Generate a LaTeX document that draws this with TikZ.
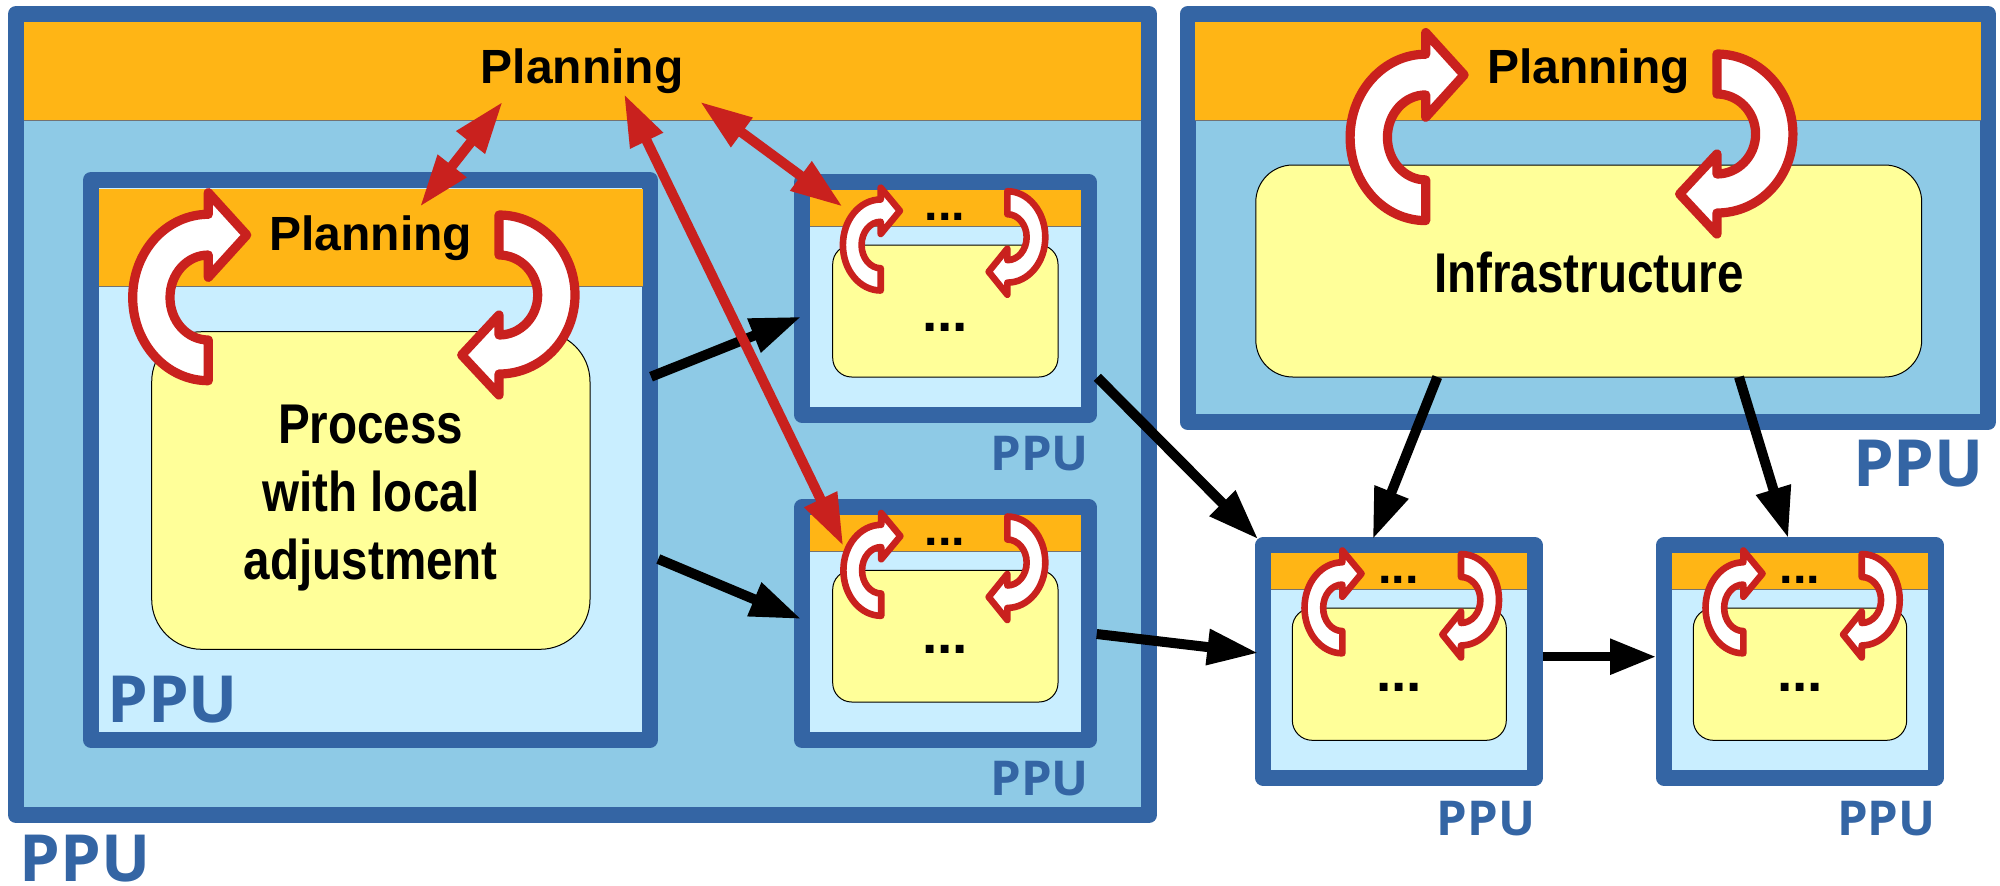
\documentclass[tikz,border=0pt]{standalone}
\usepackage{fontspec}
\setmainfont{Liberation Sans}
\newfontfamily\ppufont{Open Sans}
\usetikzlibrary{arrows.meta}
\definecolor{ppublue}{HTML}{3465A4}
\definecolor{midsky}{HTML}{8ECAE6}
\definecolor{palesky}{HTML}{C9EEFF}
\definecolor{bandorange}{HTML}{FFB515}
\definecolor{bodyyellow}{HTML}{FFFF99}
\definecolor{loopred}{HTML}{C9211E}
\tikzset{
  x=0.5pt,y=-0.5pt,
  framebox/.style={rectangle,inner sep=0pt,outer sep=0pt,draw=ppublue,line width=8pt,line join=round},
  bandbox/.style={rectangle,inner sep=0pt,outer sep=0pt,fill=bandorange},
  bodybox/.style={rectangle,inner sep=0pt,outer sep=0pt,fill=bodyyellow,draw=black,line width=0.5pt},
  looparrow/.style={draw=loopred,fill=white,line join=round},
  flow/.style={draw=black,line width=5pt,-{Triangle[length=25.5pt,width=17pt]}},
  shortflow/.style={draw=black,line width=4.4pt,-{Triangle[length=23pt,width=17pt]}},
  feedback/.style={draw=loopred,line width=5pt,{Triangle[length=26pt,width=17pt]}-{Triangle[length=26pt,width=17pt]}},
  plan/.style={anchor=base,inner sep=0pt,font=\fontsize{24pt}{28pt}\selectfont\bfseries},
  dotsband/.style={anchor=base,inner sep=0pt,font=\fontsize{24.3pt}{28pt}\selectfont\bfseries},
  dotsbody/.style={anchor=base,inner sep=0pt,font=\fontsize{27.5pt}{30pt}\selectfont\bfseries},
  bodytext/.style={anchor=base,inner sep=0pt,xscale=.85,align=center,font=\fontsize{28pt}{34pt}\selectfont\bfseries},
  ppubig/.style={anchor=base,inner sep=0pt,text=ppublue,font=\fontsize{32.5pt}{36pt}\selectfont\ppufont\bfseries},
  ppusmall/.style={anchor=base,inner sep=0pt,text=ppublue,xscale=1.02,font=\fontsize{24pt}{26pt}\selectfont\ppufont\bfseries},
}
% name, x1, y1, x2, y2, fill
\newcommand{\frameat}[6]{\node[framebox,fill=#6,minimum width={(#4-#2)*0.5pt},minimum height={(#5-#3)*0.5pt}] (#1) at ({(#2+#4)/2},{(#3+#5)/2}) {};}
\newcommand{\bandat}[5]{\node[bandbox,minimum width={(#4-#2)*0.5pt},minimum height={(#5-#3)*0.5pt}] (#1) at ({(#2+#4)/2},{(#3+#5)/2}) {};
  \draw[black!55,line width=0.5pt] (#1.south west) -- (#1.south east);}
% name, x1, y1, x2, y2, radius
\newcommand{\bodyat}[6]{\node[bodybox,rounded corners=#6,minimum width={(#4-#2)*0.5pt},minimum height={(#5-#3)*0.5pt}] (#1) at ({(#2+#4)/2},{(#3+#5)/2}) {};}
% x, y, xscale, yscale, width
\newcommand{\loopL}[5]{\begin{scope}[shift={(#1,#2)},xscale=#3,yscale=#4]
  \draw[looparrow,line width=#5] (0,83.2) .. controls (-41.8,83.2) and (-75.6,46) .. (-75.6,0) .. controls (-75.6,-46) and (-41.8,-83.2) .. (0,-83.2) -- (0,-104.8) -- (38.4,-62.5) -- (0,-20.2) -- (0,-42.5) .. controls (-21.2,-42.5) and (-38.3,-23.5) .. (-38.3,0) .. controls (-38.3,23.5) and (-21.2,42.5) .. (0,42.5) -- cycle;
\end{scope}}
\newcommand{\loopR}[5]{\begin{scope}[shift={(#1,#2)},xscale=#3,yscale=#4]
  \draw[looparrow,line width=#5] (0,-80) .. controls (42,-80) and (76,-44) .. (76,0) .. controls (76,44) and (42,79) .. (0,79) -- (0,100) -- (-37.3,60) -- (0,20) -- (0,40) .. controls (21.4,40) and (38.7,22) .. (38.7,0) .. controls (38.7,-22) and (21.4,-40) .. (0,-40) -- cycle;
\end{scope}}
\begin{document}
\begin{tikzpicture}
\useasboundingbox (0,0) rectangle (2000,885);
% outer left PPU
\frameat{big}{16}{14}{1149}{815}{midsky}
\bandat{bigband}{24}{22}{1141}{120}
\node[plan] (bigplan) at (582,83.3) {Planning};
% main process PPU
\frameat{main}{91}{180}{650}{739.7}{palesky}
\bandat{mainband}{99}{189}{643}{286.7}
\bodyat{mainbody}{151.7}{331.7}{590}{649.3}{25pt}
\node[plan] (mainplan) at (370.8,250) {Planning};
\node[bodytext] (maintext) at (370.8,579) {Process\\with local\\adjustment};
\loopL{208.3}{297.5}{1}{1}{4.6pt}
\loopR{499}{295}{1}{1}{4.6pt}
\node[ppubig] (mainppu) at (172.7,722.7) {PPU};
% small PPU 1
\frameat{sa}{802}{182}{1088.7}{414.7}{palesky}
\bandat{saband}{810}{190}{1081}{226}
\bodyat{sabody}{832.7}{245}{1058}{377}{9.5pt}
\node[dotsband] (sadots) at (945,220.8) {...};
\node[dotsbody] (sabdots) at (945,331.7) {...};
\loopL{880.7}{245}{.5}{.547}{3.3pt}
\loopR{1007.3}{237.2}{.5}{.575}{3.3pt}
\node[ppusmall] (sappu) at (1039.5,470.4) {PPU};
% small PPU 2
\frameat{sb}{802}{507.3}{1088.7}{740}{palesky}
\bandat{sbband}{810}{515.3}{1081}{551.3}
\bodyat{sbbody}{832.7}{570.3}{1058}{702}{9.5pt}
\node[dotsband] (sbdots) at (945,545.8) {...};
\node[dotsbody] (sbbdots) at (945,653.3) {...};
\loopL{881.2}{570.3}{.5}{.547}{3.3pt}
\loopR{1007.3}{562.5}{.5}{.575}{3.3pt}
\node[ppusmall] (sbppu) at (1039.5,795.6) {PPU};
\node[ppubig] (bigppu) at (85,881) {PPU};
% infrastructure PPU
\frameat{infra}{1187.5}{14}{1988}{422}{midsky}
\bandat{infraband}{1195.4}{22}{1980.5}{120}
\bodyat{infrabody}{1255.8}{165}{1921.7}{377}{18.5pt}
\node[plan] (infraplan) at (1588.4,83.3) {Planning};
\node[bodytext] (infratext) at (1589,292) {Infrastructure};
\loopL{1425.7}{137.4}{1}{1}{4.6pt}
\loopR{1716.9}{134}{1}{1}{4.6pt}
\node[ppubig] (infrappu) at (1918.5,486.5) {PPU};
% small PPU 3
\frameat{sc}{1263.2}{545.3}{1534.8}{777.7}{palesky}
\bandat{scband}{1271}{553.3}{1527.3}{589.3}
\bodyat{scbody}{1292.3}{608}{1506.3}{740.3}{10pt}
\node[dotsband] (scdots) at (1398.7,583.8) {...};
\node[dotsbody] (scbdots) at (1399,691.3) {...};
\loopL{1342.3}{607.8}{.5}{.547}{3.3pt}
\loopR{1461}{600}{.5}{.575}{3.3pt}
\node[ppusmall] (scppu) at (1486,835) {PPU};
% small PPU 4
\frameat{sd}{1664}{545.3}{1935.8}{777.7}{palesky}
\bandat{sdband}{1671.7}{553.3}{1928}{589.3}
\bodyat{sdbody}{1693.3}{608}{1906.7}{740.3}{10pt}
\node[dotsband] (sddots) at (1800,583.8) {...};
\node[dotsbody] (sdbdots) at (1800,691.3) {...};
\loopL{1743.3}{607.8}{.5}{.547}{3.3pt}
\loopR{1861.7}{600}{.5}{.575}{3.3pt}
\node[ppusmall] (sdppu) at (1886.3,835) {PPU};
% connector ends
\coordinate (m1) at (651,376.7);   \coordinate (a1) at (801.3,316.7);
\coordinate (m2) at (658.3,559);   \coordinate (b1) at (801.3,619);
\coordinate (a2) at (1097.3,377.3);\coordinate (c1) at (1258.3,539.3);
\coordinate (b2) at (1096.7,634);  \coordinate (c2) at (1258.3,653);
\coordinate (c3) at (1542.7,656.7);\coordinate (d1) at (1656,656.7);
\coordinate (i1) at (1437.3,377);  \coordinate (c4) at (1372.7,539.3);
\coordinate (i2) at (1739,377);    \coordinate (d2) at (1788.3,538.3);
\coordinate (pa) at (502.7,101.7); \coordinate (pb) at (420,206.7);
\coordinate (pc) at (624,94);      \coordinate (pd) at (843.3,546);
\coordinate (pe) at (700,101.7);   \coordinate (pf) at (842.7,206.7);
% flows
\draw[flow] (m1) -- (a1);
\draw[flow] (m2) -- (b1);
\draw[flow] (a2) -- (c1);
\draw[flow] (b2) -- (c2);
\draw[shortflow] (c3) -- (d1);
\draw[flow] (i1) -- (c4);
\draw[flow] (i2) -- (d2);
% feedback
\draw[feedback] (pa) -- (pb);
\draw[feedback] (pc) -- (pd);
\draw[feedback] (pe) -- (pf);
\end{tikzpicture}
\end{document}
